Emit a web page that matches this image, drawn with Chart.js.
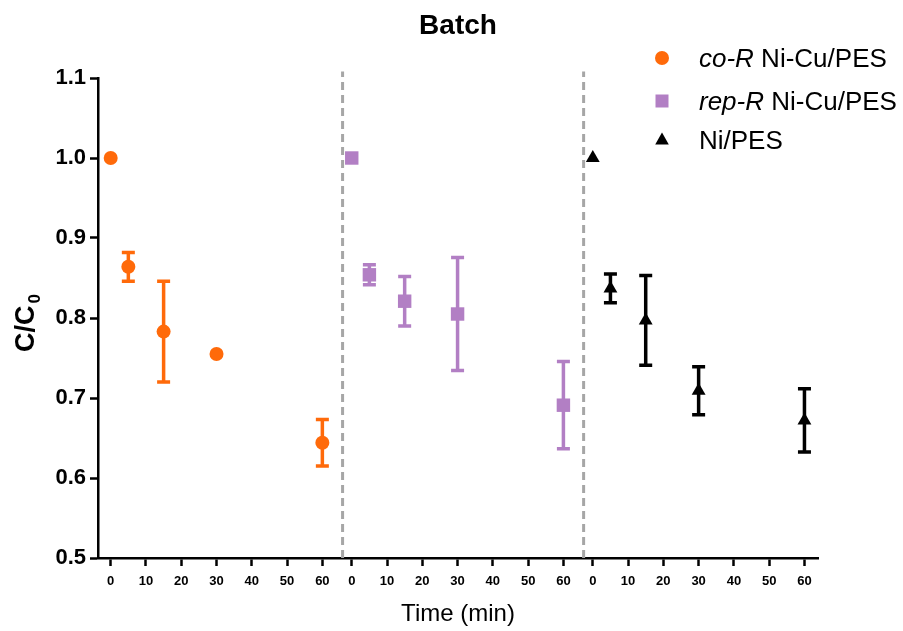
<!DOCTYPE html>
<html>
<head>
<meta charset="utf-8">
<title>Batch</title>
<script src="https://cdn.jsdelivr.net/npm/chart.js@4.4.0/dist/chart.umd.min.js"></script>
<style>
  html, body { margin: 0; padding: 0; background: #fff; }
  #wrap { width: 903px; height: 631px; }
</style>
</head>
<body>
<div id="wrap"><canvas id="batchChart" width="903" height="631"></canvas></div>
<script>
/* Tempos de coleta (min) e rótulos do eixo X (repetidos em cada bloco) */
const times = [0, 5, 15, 30, 60];
const tickLabels = [0, 10, 20, 30, 40, 50, 60];

/* C/C0 médio e desvio de cada membrana */
const coR = [1.000, 0.864, 0.783, 0.755, 0.644];
const coRErr = [0, 0.018, 0.063, 0, 0.029];
const repR = [1.000, 0.854, 0.821, 0.805, 0.691];
const repRErr = [0, 0.0125, 0.031, 0.0705, 0.0545];
const niPes = [1.000, 0.837, 0.797, 0.709, 0.672];
const niPesErr = [0, 0.018, 0.056, 0.030, 0.0395];

/* Legenda: parte em itálico + resto do nome */
const legendItalic = ['co-R', 'rep-R', ''];
const legendText = ['Ni-Cu/PES', 'Ni-Cu/PES', 'Ni/PES'];

const FONT = "'Liberation Sans', Arial, sans-serif";
const ORANGE = '#ff6a0a';
const PURPLE = '#b27fc4';
const BLACK = '#000000';

/* Cada bloco de 0-60 min é deslocado no eixo linear */
const BLOCK = 68.33;

const toPoints = (vals, block) => vals.map((v, i) => ({ x: times[i] + BLOCK * block, y: v }));

const dividerSet = (block) => ({
  type: 'line',
  data: [{ x: BLOCK * block - 2.6, y: 0.5 }, { x: BLOCK * block - 2.6, y: 1.108 }],
  borderColor: '#a6a6a6',
  borderWidth: 3,
  borderDash: [8, 5],
  pointRadius: 0,
  clip: false
});

/* Barras de erro desenhadas antes dos pontos */
const errorBars = {
  id: 'errorBars',
  beforeDatasetsDraw(chart) {
    const { ctx, scales: { x, y } } = chart;
    chart.data.datasets.forEach(ds => {
      if (!ds.errors) return;
      ctx.save();
      ctx.strokeStyle = ds.backgroundColor;
      ctx.lineWidth = 3.5;
      ds.data.forEach((p, i) => {
        const e = ds.errors[i];
        if (!e) return;
        const px = x.getPixelForValue(p.x);
        const top = y.getPixelForValue(p.y + e);
        const bot = y.getPixelForValue(p.y - e);
        ctx.beginPath();
        ctx.moveTo(px, top); ctx.lineTo(px, bot);
        ctx.moveTo(px - 6.5, top); ctx.lineTo(px + 6.5, top);
        ctx.moveTo(px - 6.5, bot); ctx.lineTo(px + 6.5, bot);
        ctx.stroke();
      });
      ctx.restore();
    });
  }
};

/* Título do eixo Y com subscrito e legenda com itálico */
const extras = {
  id: 'extras',
  afterDraw(chart) {
    const { ctx } = chart;
    ctx.save();
    // C/C0
    ctx.translate(27, 323);
    ctx.rotate(-Math.PI / 2);
    ctx.fillStyle = '#000';
    ctx.textBaseline = 'middle';
    ctx.font = 'bold 27px ' + FONT;
    const main = 'C/C';
    const wMain = ctx.measureText(main).width;
    ctx.font = 'bold 17px ' + FONT;
    const wSub = ctx.measureText('0').width;
    const x0 = -(wMain + wSub + 2) / 2;
    ctx.font = 'bold 27px ' + FONT;
    ctx.fillText(main, x0, 0);
    ctx.font = 'bold 17px ' + FONT;
    ctx.fillText('0', x0 + wMain + 2, 8);
    ctx.restore();

    // legenda
    const rows = [59, 102, 141];
    const colors = [ORANGE, PURPLE, BLACK];
    ctx.save();
    ctx.textBaseline = 'middle';
    rows.forEach((ry, i) => {
      const mx = 662;
      ctx.fillStyle = colors[i];
      ctx.beginPath();
      if (i === 0) {
        ctx.arc(mx, ry - 1, 7, 0, Math.PI * 2);
      } else if (i === 1) {
        ctx.rect(mx - 6.5, ry - 7.5, 13, 13);
      } else {
        ctx.moveTo(mx, ry - 8.5);
        ctx.lineTo(mx + 6.8, ry + 3.5);
        ctx.lineTo(mx - 6.8, ry + 3.5);
        ctx.closePath();
      }
      ctx.fill();

      ctx.fillStyle = '#000';
      let tx = 699;
      if (legendItalic[i]) {
        ctx.font = 'italic 26px ' + FONT;
        ctx.fillText(legendItalic[i], tx, ry + 1);
        tx += ctx.measureText(legendItalic[i] + ' ').width;
      }
      ctx.font = '26px ' + FONT;
      ctx.fillText(legendText[i], tx, ry + 1);
    });
    ctx.restore();
  }
};

/* Ticks do eixo X: 0..60 em cada bloco */
const xTickValues = [];
[0, 1, 2].forEach(b => tickLabels.forEach(t => xTickValues.push(t + BLOCK * b)));

const ctx = document.getElementById('batchChart').getContext('2d');

new Chart(ctx, {
  type: 'scatter',
  data: {
    datasets: [
      {
        label: 'co-R Ni-Cu/PES',
        data: toPoints(coR, 0),
        errors: coRErr,
        backgroundColor: ORANGE,
        borderColor: ORANGE,
        pointStyle: 'circle',
        pointRadius: 7,
        pointBorderWidth: 0
      },
      {
        label: 'rep-R Ni-Cu/PES',
        data: toPoints(repR, 1),
        errors: repRErr,
        backgroundColor: PURPLE,
        borderColor: PURPLE,
        pointStyle: 'rect',
        pointRadius: 9.5,
        pointBorderWidth: 0
      },
      {
        label: 'Ni/PES',
        data: toPoints(niPes, 2),
        errors: niPesErr,
        backgroundColor: BLACK,
        borderColor: BLACK,
        pointStyle: 'triangle',
        pointRadius: 8,
        pointBorderWidth: 0
      },
      dividerSet(1),
      dividerSet(2)
    ]
  },
  options: {
    responsive: false,
    devicePixelRatio: 1,
    animation: false,
    events: [],
    layout: { padding: { left: 0, right: 85, top: 0, bottom: 0 } },
    plugins: {
      legend: { display: false },
      tooltip: { enabled: false },
      title: {
        display: true,
        text: 'Batch',
        fullSize: false,
        color: '#000',
        font: { family: FONT, size: 28, weight: 'bold' },
        padding: { top: 9.5, bottom: 34.9 }
      }
    },
    scales: {
      x: {
        type: 'linear',
        position: 'bottom',
        min: -3.6,
        max: 200.5,
        border: { color: '#000', width: 2.5 },
        grid: { drawOnChartArea: false, drawTicks: true, tickLength: 8, tickColor: '#000', tickWidth: 2.5 },
        afterBuildTicks: axis => { axis.ticks = xTickValues.map(v => ({ value: v })); },
        afterFit: axis => { axis.height = 73; },
        ticks: {
          autoSkip: false,
          maxRotation: 0,
          color: '#000',
          padding: 8,
          font: { family: FONT, size: 13, weight: 'bold' },
          callback: (v, i) => tickLabels[i % tickLabels.length]
        },
        title: {
          display: true,
          text: 'Time (min)',
          color: '#000',
          font: { family: FONT, size: 24 },
          padding: { top: 0, bottom: 2 }
        }
      },
      y: {
        min: 0.5,
        max: 1.1,
        border: { color: '#000', width: 2.5 },
        grid: { drawOnChartArea: false, drawTicks: true, tickLength: 8, tickColor: '#000', tickWidth: 2.5 },
        afterFit: axis => { axis.width = 98; },
        ticks: {
          stepSize: 0.1,
          color: '#000',
          padding: 4,
          font: { family: FONT, size: 22, weight: 'bold' },
          callback: v => v.toFixed(1)
        }
      }
    }
  },
  plugins: [errorBars, extras]
});
</script>
</body>
</html>
